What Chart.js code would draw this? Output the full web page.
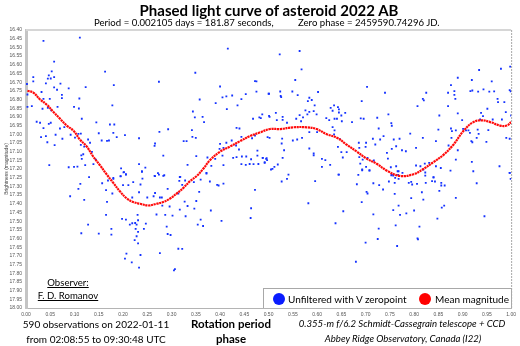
<!DOCTYPE html>
<html>
<head>
<meta charset="utf-8">
<script src="https://cdn.jsdelivr.net/npm/chart.js@4.4.0/dist/chart.umd.min.js"></script>
<style>
  body { margin: 0; background: #fff; }
  #wrap { position: relative; width: 520px; height: 346px; font-family: Lato, "Noto Sans", sans-serif; color: #000; overflow: hidden; }
  #chart { position: absolute; left: 0; top: 0; }
  .t { position: absolute; white-space: nowrap; line-height: 1; }
  .c { transform: translateX(-50%); }
  #title { left: 269px; top: 3px; font-size: 15px; font-weight: bold; }
  .sub { top: 18px; font-size: 9.6px; }
  .foot { font-size: 10px; }
  .bold { font-weight: bold; font-size: 11.5px; }
  .ital { font-style: italic; font-size: 9.6px; }
  .obs { font-size: 9.6px; text-decoration: underline; }
  #legend { position: absolute; left: 263px; top: 288px; width: 249px; height: 20px; border: 1px solid #a8a8a8; border-bottom: none; background: #fff; box-sizing: border-box; font-size: 10px; }
  .dot { position: absolute; top: 4px; width: 12px; height: 12px; border-radius: 50%; }
  .lt { position: absolute; top: 5px; white-space: nowrap; line-height: 1; }
</style>
</head>
<body>
<div id="wrap">
  <canvas id="chart" width="520" height="346"></canvas>
  <div id="title" class="t c">Phased light curve of asteroid 2022 AB</div>
  <div class="t sub" style="left:94px">Period = 0.002105 days = 181.87 seconds,</div>
  <div class="t sub" style="left:298px">Zero phase = 2459590.74296 JD.</div>
  <div class="t obs c" style="left:68px;top:278px">Observer:</div>
  <div class="t obs c" style="left:68px;top:291px">F. D. Romanov</div>
  <div id="legend">
    <div class="dot" style="left:9px;background:#0a1cff"></div>
    <div class="lt" style="left:24px">Unfiltered with V zeropoint</div>
    <div class="dot" style="left:155px;background:#ff0000"></div>
    <div class="lt" style="left:171px">Mean magnitude</div>
  </div>
  <div class="t foot c" style="left:96px;top:319px">590 observations on 2022-01-11</div>
  <div class="t foot c" style="left:96px;top:334px">from 02:08:55 to 09:30:48 UTC</div>
  <div class="t bold c" style="left:231px;top:318px">Rotation period</div>
  <div class="t bold c" style="left:231px;top:333px">phase</div>
  <div class="t ital c" style="left:402px;top:319px">0.355-m f/6.2 Schmidt-Cassegrain telescope + CCD</div>
  <div class="t ital c" style="left:403px;top:334px">Abbey Ridge Observatory, Canada (I22)</div>
</div>
<script>
// Phased light curve of 2022 AB

// Individual observations: rotation phase and magnitude
const obsPhase = [
  0.111,0.036,0.416,0.058,0.349,0.163,0.053,0.047,0.051,0.045,
  0.015,0.058,0.015,0.041,0.071,0.002,0.058,0.064,0.088,0.123,
  0.181,0.274,0.400,0.472,0.475,0.501,0.475,0.032,0.074,0.074,
  0.036,0.049,0.110,0.003,0.003,0.012,0.358,0.405,0.413,0.425,
  0.444,0.414,0.391,0.436,0.453,0.034,0.045,0.052,0.065,0.099,
  0.109,0.178,0.022,0.029,0.047,0.051,0.115,0.145,0.173,0.182,
  0.344,0.348,0.364,0.367,0.036,0.070,0.079,0.041,0.061,0.075,
  0.113,0.108,0.101,0.150,0.180,0.204,0.156,0.167,0.171,0.275,
  0.293,0.342,0.325,0.331,0.350,0.343,0.031,0.044,0.059,0.092,
  0.128,0.113,0.120,0.132,0.187,0.114,0.118,0.115,0.136,0.139,
  0.144,0.122,0.099,0.106,0.088,0.048,0.266,0.265,0.233,0.283,
  0.390,0.405,0.407,0.400,0.399,0.407,0.382,0.372,0.351,0.333,
  0.317,0.265,0.285,0.272,0.233,0.246,0.239,0.196,0.201,0.206,
  0.180,0.195,0.413,0.424,0.434,0.440,0.444,0.433,0.439,0.427,
  0.434,0.445,0.454,0.464,0.477,0.488,0.496,0.492,0.479,0.469,
  0.461,0.453,0.444,0.466,0.472,0.477,0.498,0.501,0.481,0.468,
  0.374,
  0.564,0.523,0.568,0.555,0.500,0.703,0.740,0.934,0.979,0.998,
  0.524,0.525,0.526,0.549,0.560,0.890,0.919,0.920,0.876,0.883,
  0.883,0.885,0.870,0.916,0.932,0.943,0.955,0.965,0.960,0.972,
  0.973,0.986,0.997,0.999,0.852,0.870,0.890,0.825,0.818,0.820,
  0.807,0.692,0.584,0.589,0.581,0.602,0.595,0.576,0.593,0.584,
  0.580,0.599,0.564,0.557,0.567,0.571,0.515,0.529,0.529,0.517,
  0.502,0.487,0.484,0.538,0.628,0.635,0.643,0.645,0.632,0.645,
  0.650,0.658,0.619,0.625,0.636,0.641,0.651,0.672,0.690,0.696,
  0.724,0.747,0.753,0.754,0.727,0.632,0.636,0.635,0.647,0.643,
  0.584,0.600,0.569,0.559,0.550,0.528,0.527,0.502,0.488,0.495,
  0.497,0.492,0.512,0.508,0.519,0.529,0.532,0.584,0.593,0.593,
  0.610,0.617,0.627,0.610,0.645,0.650,0.653,0.661,0.686,0.701,
  0.687,0.700,0.715,0.730,0.720,0.737,0.758,0.770,0.763,0.754,
  0.744,0.775,0.783,0.804,0.818,0.792,0.687,0.694,0.704,0.689,
  0.701,0.693,0.708,0.717,0.746,0.763,0.752,0.766,0.753,0.757,
  0.761,0.768,0.804,0.813,0.819,0.822,0.831,0.845,0.855,0.823,
  0.840,0.850,0.845,0.876,0.878,0.886,0.877,0.871,0.890,0.901,
  0.899,0.907,0.912,0.915,0.918,0.920,0.929,0.931,0.933,0.936,
  0.938,0.942,0.951,0.953,0.949,0.962,0.981,0.989,1.000,0.990,
  0.997,0.886,0.919,0.976,0.997,
  0.091,0.108,0.112,0.130,0.120,0.128,0.114,0.150,0.176,0.176,
  0.165,0.167,0.165,0.157,0.169,0.180,0.195,0.202,0.206,0.200,
  0.211,0.178,0.221,0.219,0.233,0.236,0.239,0.240,0.250,0.266,
  0.274,0.283,0.263,0.266,0.276,0.280,0.281,0.296,0.292,0.316,
  0.318,0.314,0.322,0.328,0.346,0.360,0.372,0.379,0.394,0.397,
  0.407,0.357,0.351,0.327,0.333,0.347,0.317,0.329,0.302,0.287,
  0.269,0.360,0.354,0.365,0.381,0.403,0.464,0.463,0.472,0.198,
  0.206,0.214,0.219,0.225,0.230,0.231,0.228,0.226,0.231,0.228,
  0.224,0.231,0.247,0.243,0.290,0.292,0.298,0.276,0.314,0.322,
  0.207,0.204,0.218,0.236,0.233,0.305,0.307,
  0.505,0.527,0.538,0.541,0.596,0.644,0.682,0.685,0.693,0.708,
  0.716,0.728,0.748,0.760,0.767,0.768,0.754,0.776,0.789,0.794,
  0.796,0.806,0.824,0.823,0.837,0.843,0.840,0.856,0.856,0.863,
  0.875,0.922,0.929,0.997,0.999,0.582,0.654,0.638,0.692,0.702,
  0.704,0.736,0.760,0.768,0.757,0.771,0.784,0.800,0.794,0.816,
  0.819,0.852,0.857,0.862,0.886,0.848,0.945,0.716,0.762,0.727,
  0.811,0.725,0.700,0.807,0.808,0.765,0.680,
];
const obsMag = [
  16.444,16.463,16.507,16.582,16.646,16.640,16.638,16.661,16.679,16.680,
  16.671,16.671,16.696,16.707,16.709,16.711,16.730,16.744,16.736,16.729,
  16.717,16.698,16.725,16.694,16.696,16.767,16.755,16.757,16.773,16.792,
  16.796,16.796,16.794,16.771,16.842,16.838,16.800,16.788,16.782,16.777,
  16.798,16.855,16.821,16.834,16.769,16.853,16.848,16.863,16.842,16.842,
  16.852,16.834,16.928,16.934,16.940,16.934,16.911,16.932,16.944,16.944,
  16.869,16.903,16.900,16.930,16.965,16.967,16.959,17.011,17.003,17.026,
  16.996,16.998,17.019,16.994,16.992,17.005,17.036,17.038,17.036,16.986,
  16.971,16.976,17.040,17.040,17.021,17.015,17.017,17.046,17.063,17.003,
  17.030,17.061,17.071,17.049,17.017,17.122,17.115,17.142,17.101,17.172,
  17.146,17.178,17.188,17.186,17.190,17.178,17.053,17.067,17.023,17.123,
  17.142,17.123,17.178,17.055,17.084,17.078,17.182,17.222,17.126,17.176,
  17.246,17.240,17.236,17.224,17.172,17.192,17.217,17.196,17.219,17.230,
  17.251,17.242,17.049,17.036,16.963,16.967,17.015,17.065,17.088,17.136,
  17.132,17.128,17.128,17.144,17.123,17.136,17.138,17.161,17.171,17.172,
  17.171,17.176,17.172,17.023,17.007,17.094,17.017,16.894,16.903,16.911,
  17.134,
  16.521,16.540,16.627,16.688,16.767,16.727,16.761,16.630,16.623,16.611,
  16.754,16.780,16.786,16.754,16.775,16.675,16.688,16.748,16.717,16.752,
  16.773,16.796,16.761,16.752,16.755,16.742,16.755,16.753,16.696,16.796,
  16.815,16.815,16.746,16.753,16.892,16.838,16.880,16.761,16.796,16.805,
  16.838,16.809,16.790,16.803,16.809,16.757,16.834,16.863,16.867,16.871,
  16.886,16.886,16.890,16.911,16.925,16.903,16.877,16.900,16.917,16.919,
  16.900,16.886,16.907,16.934,16.848,16.834,16.844,16.857,16.865,16.875,
  16.892,16.877,16.907,16.919,16.911,16.911,16.925,16.930,16.909,16.911,
  16.905,16.886,16.936,16.951,16.967,16.959,16.978,17.001,17.028,17.073,
  16.988,16.988,17.021,17.030,17.036,17.025,17.053,17.021,17.136,17.142,
  17.149,17.165,17.188,17.199,17.174,17.136,17.092,17.082,17.111,17.122,
  17.142,17.149,17.176,17.188,17.232,17.103,17.134,17.103,17.049,17.049,
  17.078,17.073,17.026,17.030,17.059,17.011,17.030,17.026,17.069,17.084,
  17.107,17.092,17.098,17.078,17.021,16.996,17.132,17.146,17.136,17.169,
  17.188,17.207,17.207,17.151,17.140,17.184,17.190,17.213,17.236,17.238,
  17.251,17.257,17.180,17.184,17.203,17.169,17.165,17.184,17.194,17.238,
  17.247,16.973,17.040,16.967,16.982,16.978,17.021,17.065,17.092,16.969,
  16.919,16.978,16.978,16.992,17.040,17.046,17.021,16.973,16.998,16.915,
  16.877,16.896,16.853,16.976,17.044,16.915,16.915,16.873,16.892,17.021,
  17.026,17.146,17.159,17.184,17.222,
  17.357,17.314,17.286,17.247,17.378,17.520,17.570,17.572,17.545,17.578,
  17.464,17.389,17.322,17.282,17.266,17.257,17.241,17.218,17.232,17.293,
  17.293,17.341,17.276,17.364,17.334,17.289,17.213,17.255,17.364,17.241,
  17.232,17.240,17.357,17.338,17.364,17.364,17.411,17.416,17.314,17.268,
  17.245,17.341,17.291,17.266,17.276,17.261,17.226,17.272,17.291,17.295,
  17.284,17.332,17.384,17.388,17.413,17.428,17.434,17.472,17.468,17.464,
  17.462,17.491,17.520,17.528,17.439,17.499,17.426,17.482,17.320,17.487,
  17.491,17.520,17.512,17.511,17.464,17.495,17.520,17.545,17.562,17.587,
  17.609,17.628,17.514,17.545,17.532,17.574,17.580,17.684,17.659,17.660,
  17.687,17.716,17.737,17.695,17.768,17.783,17.776,
  17.203,17.272,17.257,17.232,17.270,17.232,17.288,17.234,17.203,17.209,
  17.282,17.293,17.272,17.280,17.234,17.213,17.232,17.222,17.280,17.274,
  17.289,17.286,17.280,17.220,17.270,17.272,17.249,17.280,17.295,17.295,
  17.209,17.213,17.282,17.222,17.257,17.397,17.443,17.512,17.391,17.332,
  17.341,17.318,17.343,17.411,17.437,17.464,17.455,17.439,17.368,17.334,
  17.376,17.326,17.422,17.411,17.366,17.486,17.472,17.461,17.524,17.543,
  17.532,17.603,17.624,17.599,17.605,17.643,17.734,
];

// Mean magnitude curve
const meanPhase = [
  0.003,0.015,0.029,0.043,0.056,0.070,0.084,0.098,0.111,0.125,
  0.139,0.153,0.166,0.180,0.194,0.208,0.221,0.235,0.252,0.269,
  0.283,0.297,0.311,0.324,0.338,0.352,0.365,0.379,0.400,0.421,
  0.441,0.462,0.482,0.503,0.524,0.551,0.579,0.599,0.620,0.641,
  0.661,0.682,0.702,0.723,0.744,0.771,0.799,0.819,0.840,0.860,
  0.881,0.902,0.922,0.940,0.957,0.977,0.991,1.000,
];
const meanMag = [
  16.75,16.76,16.80,16.83,16.87,16.91,16.95,16.98,17.03,17.07,
  17.13,17.18,17.23,17.28,17.33,17.37,17.39,17.40,17.41,17.40,
  17.39,17.37,17.34,17.31,17.27,17.24,17.20,17.15,17.10,17.07,
  17.04,17.01,16.99,16.97,16.97,16.96,16.96,16.97,17.00,17.02,
  17.06,17.10,17.14,17.17,17.21,17.24,17.23,17.20,17.16,17.12,
  17.06,16.98,16.93,16.92,16.93,16.95,16.95,16.93,
];

// Axis ranges and tick spacing
const PHASE_MIN = 0, PHASE_MAX = 1, PHASE_STEP = 0.05;
const MAG_MIN = 16.40, MAG_MAX = 18.00, MAG_STEP = 0.05;

const BLUE = '#1432ff';
const RED = '#ff0a0a';
const TICK_FONT = { family: 'Liberation Sans', size: 5 };

// light grey frame: solid top edge, dashed right edge
const framePlugin = {
  id: 'frame',
  beforeDatasetsDraw(chart) {
    const { ctx, chartArea: a } = chart;
    ctx.save();
    ctx.strokeStyle = '#d6d6d6';
    ctx.lineWidth = 2;
    ctx.beginPath();
    ctx.moveTo(a.left, a.top);
    ctx.lineTo(a.right, a.top);
    ctx.stroke();
    ctx.strokeStyle = '#a8a8a8';
    ctx.lineWidth = 1;
    ctx.setLineDash([2, 1]);
    ctx.beginPath();
    ctx.moveTo(a.right + 0.5, a.top);
    ctx.lineTo(a.right + 0.5, a.bottom);
    ctx.stroke();
    ctx.restore();
  },
};

new Chart(document.getElementById('chart'), {
  type: 'scatter',
  data: {
    datasets: [{
      label: 'Unfiltered with V zeropoint',
      data: obsPhase.map((p, i) => ({ x: p, y: obsMag[i] })),
      pointStyle: 'rect',
      pointRadius: 1.3,
      backgroundColor: BLUE,
      borderWidth: 0,
      order: 2,
    }, {
      label: 'Mean magnitude',
      data: meanPhase.map((p, i) => ({ x: p, y: meanMag[i] })),
      showLine: true,
      borderColor: RED,
      borderWidth: 2.2,
      borderDash: [2.2, 0.6],
      tension: 0.4,
      pointRadius: 0,
      order: 1,
    }],
  },
  options: {
    responsive: false,
    animation: false,
    layout: { padding: { top: 30, right: 8, left: 0, bottom: 0 } },
    plugins: { legend: { display: false }, tooltip: { enabled: false } },
    scales: {
      x: {
        type: 'linear',
        min: PHASE_MIN,
        max: PHASE_MAX,
        afterFit(scale) { scale.height = 38; },
        grid: { display: false, drawTicks: false },
        border: { color: '#b4b4b4', width: 1 },
        ticks: {
          stepSize: PHASE_STEP,
          autoSkip: false,
          maxRotation: 0,
          padding: 4,
          color: '#555',
          font: TICK_FONT,
          callback: v => v.toFixed(2),
        },
      },
      y: {
        type: 'linear',
        min: MAG_MIN,
        max: MAG_MAX,
        reverse: true,
        afterFit(scale) { scale.width = 26; },
        grid: { display: false, drawTicks: false },
        border: { color: '#c4c4c4', width: 3 },
        title: {
          display: true,
          text: 'Brightness (magnitude)',
          color: '#444',
          font: TICK_FONT,
          padding: { top: 4, bottom: 0 },
        },
        ticks: {
          stepSize: MAG_STEP,
          autoSkip: false,
          padding: 4,
          color: '#555',
          font: TICK_FONT,
          callback: v => v.toFixed(2),
        },
      },
    },
  },
  plugins: [framePlugin],
});
</script>
</body>
</html>
